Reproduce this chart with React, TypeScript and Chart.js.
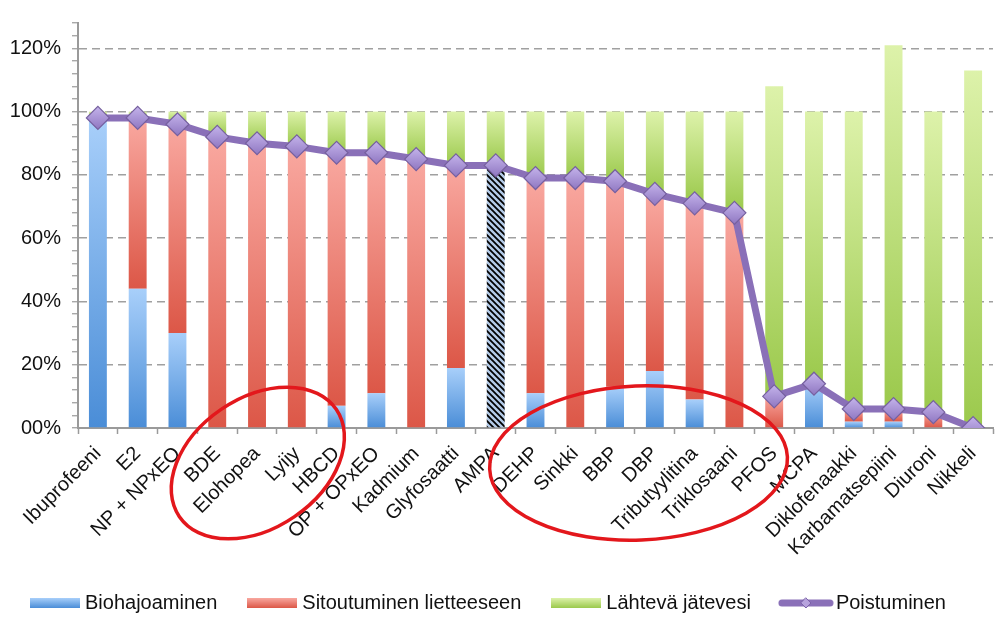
import { useEffect, useRef } from 'react';
import { Chart, registerables } from 'chart.js';

Chart.register(...registerables);

const FONT = "'Liberation Sans', Arial, Helvetica, sans-serif";

const categories = [
  'Ibuprofeeni', 'E2', 'NP + NPxEO', 'BDE', 'Elohopea', 'Lyijy', 'HBCD', 'OP + OPxEO',
  'Kadmium', 'Glyfosaatti', 'AMPA', 'DEHP', 'Sinkki', 'BBP', 'DBP', 'Tributyylitina',
  'Triklosaani', 'PFOS', 'MCPA', 'Diklofenaakki', 'Karbamatsepiini', 'Diuroni', 'Nikkeli',
];

// Biohajoaminen (%)
const biodegradation = [98, 44, 30, 0, 0, 0, 7, 11, 0, 19, 83, 11, 0, 13, 18, 9, 0, 0, 14, 2, 2, 0, 0];
// Sitoutuminen lietteeseen (%)
const sludge = [0, 54, 66, 92, 90, 89, 80, 76, 85, 64, 0, 68, 79, 65, 56, 62, 68, 10, 0, 4, 4, 5, 0];
// Lähtevä jätevesi (%)
const effluent = [2, 2, 4, 8, 10, 11, 13, 13, 15, 17, 17, 21, 21, 22, 26, 29, 32, 98, 86, 94, 115, 95, 113];
// Poistuminen (%)
const removal = [98, 98, 96, 92, 90, 89, 87, 87, 85, 83, 83, 79, 79, 78, 74, 71, 68, 10, 14, 6, 6, 5, 0];

const hatchedCategory = 'AMPA';

const yTickValues = [0, 4, 8, 12, 16, 20, 24, 28, 32, 36, 40, 44, 48, 52, 56, 60, 64, 68, 72, 76, 80, 84, 88, 92, 96, 100, 104, 108, 112, 116, 120, 124, 128];
const yMajorValues = [0, 20, 40, 60, 80, 100, 120];
const yMajorLabels = ['00%', '20%', '40%', '60%', '80%', '100%', '120%'];

const seriesLabels = ['Biohajoaminen', 'Sitoutuminen lietteeseen', 'Lähtevä jätevesi', 'Poistuminen'];

const BLUE = ['#a8cffa', '#4a8dd7'];
const RED = ['#f9a8a0', '#dc5747'];
const GREEN = ['#ddf2aa', '#9bc94c'];
const PURPLE_LINE = '#8a70b8';
const DIAMOND = ['#c3b2ea', '#9078c2'];

function segmentGradient(colors: string[], starts: number[], values: number[], hatch?: CanvasPattern | null) {
  return (ctx: any) => {
    if (ctx.type !== 'data') return colors[1];
    const i = ctx.dataIndex;
    if (hatch && categories[i] === hatchedCategory) return hatch;
    const chart = ctx.chart;
    const y = chart.scales && chart.scales.y;
    if (!chart.chartArea || !y) return colors[1];
    const top = y.getPixelForValue(starts[i] + values[i]);
    const bottom = y.getPixelForValue(starts[i]);
    if (!isFinite(top) || !isFinite(bottom) || Math.abs(bottom - top) < 1) return colors[1];
    const g = chart.ctx.createLinearGradient(0, top, 0, bottom);
    g.addColorStop(0, colors[0]);
    g.addColorStop(1, colors[1]);
    return g;
  };
}

function diamondGradient(ctx: any) {
  if (ctx.type !== 'data') return DIAMOND[1];
  const chart = ctx.chart;
  const y = chart.scales && chart.scales.y;
  if (!chart.chartArea || !y) return DIAMOND[1];
  const py = y.getPixelForValue(removal[ctx.dataIndex]);
  if (!isFinite(py)) return DIAMOND[1];
  const g = chart.ctx.createLinearGradient(0, py - 11, 0, py + 11);
  g.addColorStop(0, DIAMOND[0]);
  g.addColorStop(1, DIAMOND[1]);
  return g;
}

function makeHatch(): CanvasPattern | null {
  const c = document.createElement('canvas');
  c.width = 6;
  c.height = 6;
  const g = c.getContext('2d');
  if (!g) return null;
  g.fillStyle = '#b4cbe8';
  g.fillRect(0, 0, 6, 6);
  g.strokeStyle = '#000';
  g.lineWidth = 1.8;
  g.beginPath();
  g.moveTo(-3, 3); g.lineTo(3, 9);
  g.moveTo(0, 0); g.lineTo(6, 6);
  g.moveTo(3, -3); g.lineTo(9, 3);
  g.stroke();
  return g.createPattern(c, 'repeat');
}

function makeBoxImage(colors: string[]) {
  const c = document.createElement('canvas');
  c.width = 50;
  c.height = 10;
  const g = c.getContext('2d');
  if (g) {
    const gr = g.createLinearGradient(0, 0, 0, 10);
    gr.addColorStop(0, colors[0]);
    gr.addColorStop(1, colors[1]);
    g.fillStyle = gr;
    g.fillRect(0, 0, 50, 10);
  }
  return c;
}

function makeLineImage() {
  const c = document.createElement('canvas');
  c.width = 56;
  c.height = 14;
  const g = c.getContext('2d');
  if (g) {
    g.strokeStyle = PURPLE_LINE;
    g.lineWidth = 7;
    g.lineCap = 'round';
    g.beginPath();
    g.moveTo(4, 7);
    g.lineTo(52, 7);
    g.stroke();
    g.fillStyle = '#b7a3dd';
    g.strokeStyle = '#7a61a8';
    g.lineWidth = 1;
    g.beginPath();
    g.moveTo(28, 2); g.lineTo(33, 7); g.lineTo(28, 12); g.lineTo(23, 7); g.closePath();
    g.fill();
    g.stroke();
  }
  return c;
}

const ellipsePlugin = {
  id: 'handDrawnEllipses',
  afterDraw(chart: any) {
    const { ctx, chartArea } = chart;
    const x = chart.scales.x;
    if (!x || !chartArea) return;
    ctx.save();
    ctx.strokeStyle = '#e3171c';
    ctx.lineWidth = 3.5;
    const draw = (index: number, dy: number, rx: number, ry: number, rot: number) => {
      ctx.beginPath();
      ctx.ellipse(x.getPixelForValue(index), chartArea.bottom + dy, rx, ry, rot, 0, Math.PI * 2);
      ctx.stroke();
    };
    draw(4.02, 35, 95, 65, -0.6);
    draw(13.59, 35, 149, 77, -0.04);
    ctx.restore();
  },
};

export default function App() {
  const ref = useRef<HTMLCanvasElement | null>(null);

  useEffect(() => {
    if (!ref.current) return;
    const hatch = makeHatch();
    const zeros = categories.map(() => 0);
    const sludgeStart = biodegradation.slice();
    const effluentStart = biodegradation.map((b, i) => b + sludge[i]);

    const legendImages = [makeBoxImage(BLUE), makeBoxImage(RED), makeBoxImage(GREEN), makeLineImage()];

    const chart = new Chart(ref.current, {
      type: 'bar',
      data: {
        labels: categories,
        datasets: [
          {
            label: seriesLabels[0],
            data: biodegradation,
            stack: 'bars',
            backgroundColor: segmentGradient(BLUE, zeros, biodegradation, hatch) as any,
            borderWidth: 0,
            order: 1,
          },
          {
            label: seriesLabels[1],
            data: sludge,
            stack: 'bars',
            backgroundColor: segmentGradient(RED, sludgeStart, sludge) as any,
            borderWidth: 0,
            order: 1,
          },
          {
            label: seriesLabels[2],
            data: effluent,
            stack: 'bars',
            backgroundColor: segmentGradient(GREEN, effluentStart, effluent) as any,
            borderWidth: 0,
            order: 1,
          },
          {
            type: 'line',
            label: seriesLabels[3],
            data: removal,
            stack: 'line',
            borderColor: PURPLE_LINE,
            borderWidth: 7,
            pointStyle: 'rectRot',
            pointRadius: 11.5,
            pointBackgroundColor: diamondGradient,
            pointBorderColor: '#76609f',
            pointBorderWidth: 1.2,
            tension: 0,
            order: -1,
          } as any,
        ],
      },
      options: {
        animation: false,
        responsive: false,
        layout: { padding: { top: 20, right: 14, bottom: 12, left: 0 } },
        datasets: {
          bar: { categoryPercentage: 1, barPercentage: 0.45 },
        },
        scales: {
          x: {
            stacked: true,
            offset: true,
            afterFit: (s: any) => { s.height = 130; },
            grid: {
              offset: true,
              drawOnChartArea: false,
              drawTicks: true,
              tickLength: 6,
              tickColor: '#9a9a9a',
              tickWidth: 1.5,
            },
            border: { color: '#9a9a9a', width: 2 },
            ticks: {
              autoSkip: false,
              minRotation: 45,
              maxRotation: 45,
              padding: 8,
              color: '#111',
              font: { family: FONT, size: 20 },
            },
          },
          y: {
            stacked: true,
            min: 0,
            max: 128,
            afterBuildTicks: (s: any) => { s.ticks = yTickValues.map((v) => ({ value: v })); },
            afterFit: (s: any) => { s.width = 78; },
            grid: {
              color: (ctx: any) => {
                const v = ctx.tick ? ctx.tick.value : -1;
                return v > 0 && yMajorValues.includes(v) ? '#a0a0a0' : 'rgba(0,0,0,0)';
              },
              lineWidth: 1.5,
              drawTicks: true,
              tickLength: 6,
              tickColor: '#9a9a9a',
              tickWidth: 1.2,
            },
            border: { color: '#9a9a9a', width: 2, dash: [8, 5] },
            ticks: {
              autoSkip: false,
              padding: 11,
              color: '#111',
              font: { family: FONT, size: 20 },
              callback: (v: any) => {
                const k = yMajorValues.indexOf(Number(v));
                return k >= 0 ? yMajorLabels[k] : '';
              },
            },
          },
        },
        plugins: {
          tooltip: { enabled: false },
          legend: {
            position: 'bottom',
            align: 'start',
            labels: {
              usePointStyle: true,
              pointStyleWidth: 40,
              padding: 35,
              color: '#111',
              font: { family: FONT, size: 20 },
              generateLabels: () =>
                seriesLabels.map((text, i) => ({
                  text,
                  datasetIndex: i,
                  fillStyle: 'rgba(0,0,0,0)',
                  strokeStyle: 'rgba(0,0,0,0)',
                  lineWidth: 0,
                  hidden: false,
                  pointStyle: legendImages[i] as any,
                  fontColor: '#111',
                })),
            },
          },
        },
      },
      plugins: [ellipsePlugin],
    } as any);

    return () => chart.destroy();
  }, []);

  return (
    <div style={{ position: 'absolute', left: 0, top: 0, width: 1007, height: 635, background: '#fff' }}>
      <canvas ref={ref} width={1007} height={635} style={{ width: 1007, height: 635, display: 'block' }} />
    </div>
  );
}
